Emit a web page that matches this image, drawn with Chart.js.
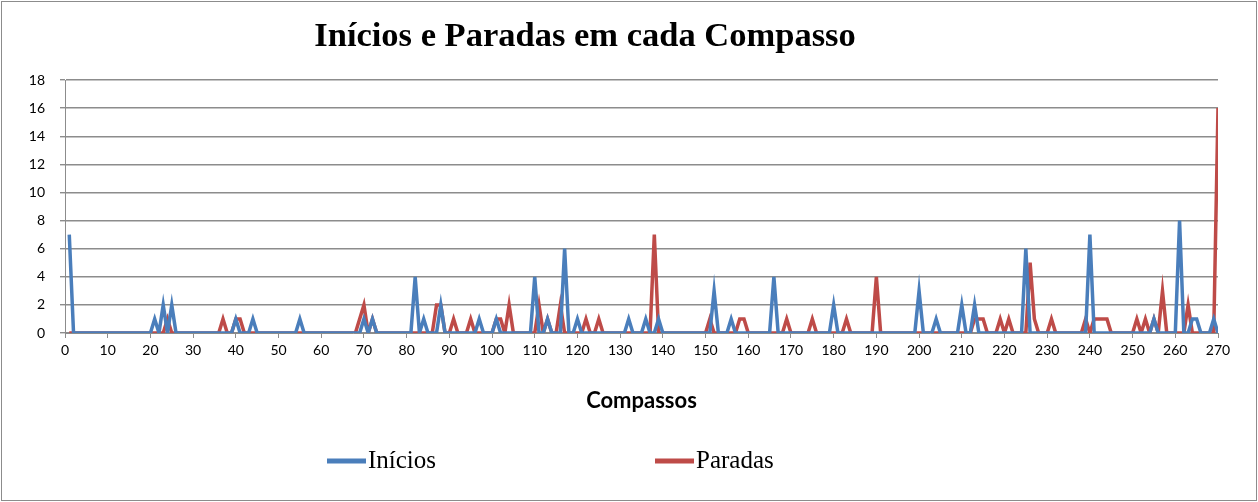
<!DOCTYPE html>
<html>
  <head>
    <title>Inícios e Paradas em cada Compasso</title>
    <script src="https://cdn.jsdelivr.net/npm/chart.js"></script>
    <style>
      body { margin: 0; background: #fff; }
      #wrap { width: 1258px; height: 502px; }
    </style>
  </head>
  <body>
    <div id="wrap"><canvas id="compassoChart"></canvas></div>
    <script>
      // values, one entry per compasso (1..270), rows of 10
      const inicios = [
        7, 0, 0, 0, 0, 0, 0, 0, 0, 0,
        0, 0, 0, 0, 0, 0, 0, 0, 0, 0,
        1, 0, 2, 0, 2, 0, 0, 0, 0, 0,
        0, 0, 0, 0, 0, 0, 0, 0, 0, 1,
        0, 0, 0, 1, 0, 0, 0, 0, 0, 0,
        0, 0, 0, 0, 1, 0, 0, 0, 0, 0,
        0, 0, 0, 0, 0, 0, 0, 0, 0, 1,
        0, 1, 0, 0, 0, 0, 0, 0, 0, 0,
        0, 4, 0, 1, 0, 0, 0, 2, 0, 0,
        0, 0, 0, 0, 0, 0, 1, 0, 0, 0,
        1, 0, 0, 0, 0, 0, 0, 0, 0, 4,
        0, 0, 1, 0, 0, 0, 6, 0, 0, 1,
        0, 0, 0, 0, 0, 0, 0, 0, 0, 0,
        0, 1, 0, 0, 0, 1, 0, 0, 1, 0,
        0, 0, 0, 0, 0, 0, 0, 0, 0, 0,
        0, 3, 0, 0, 0, 1, 0, 0, 0, 0,
        0, 0, 0, 0, 0, 4, 0, 0, 0, 0,
        0, 0, 0, 0, 0, 0, 0, 0, 0, 2,
        0, 0, 0, 0, 0, 0, 0, 0, 0, 0,
        0, 0, 0, 0, 0, 0, 0, 0, 0, 3,
        0, 0, 0, 1, 0, 0, 0, 0, 0, 2,
        0, 0, 2, 0, 0, 0, 0, 0, 0, 0,
        0, 0, 0, 0, 6, 0, 0, 0, 0, 0,
        0, 0, 0, 0, 0, 0, 0, 0, 0, 7,
        0, 0, 0, 0, 0, 0, 0, 0, 0, 0,
        0, 0, 0, 0, 1, 0, 0, 0, 0, 0,
        8, 0, 0, 1, 1, 0, 0, 0, 1, 0,
      ];

      const paradas = [
        0, 0, 0, 0, 0, 0, 0, 0, 0, 0,
        0, 0, 0, 0, 0, 0, 0, 0, 0, 0,
        0, 0, 0, 1, 0, 0, 0, 0, 0, 0,
        0, 0, 0, 0, 0, 0, 1, 0, 0, 1,
        1, 0, 0, 0, 0, 0, 0, 0, 0, 0,
        0, 0, 0, 0, 0, 0, 0, 0, 0, 0,
        0, 0, 0, 0, 0, 0, 0, 0, 1, 2,
        0, 1, 0, 0, 0, 0, 0, 0, 0, 0,
        0, 0, 0, 0, 0, 0, 2, 2, 0, 0,
        1, 0, 0, 0, 1, 0, 0, 0, 0, 0,
        1, 1, 0, 2, 0, 0, 0, 0, 0, 0,
        2, 0, 1, 0, 0, 2, 0, 0, 0, 0,
        0, 1, 0, 0, 1, 0, 0, 0, 0, 0,
        0, 0, 0, 0, 0, 0, 0, 7, 0, 0,
        0, 0, 0, 0, 0, 0, 0, 0, 0, 0,
        1, 0, 0, 0, 0, 0, 0, 1, 1, 0,
        0, 0, 0, 0, 0, 0, 0, 0, 1, 0,
        0, 0, 0, 0, 1, 0, 0, 0, 0, 0,
        0, 0, 1, 0, 0, 0, 0, 0, 0, 4,
        0, 0, 0, 0, 0, 0, 0, 0, 0, 0,
        0, 0, 0, 0, 0, 0, 0, 0, 0, 0,
        0, 0, 1, 1, 1, 0, 0, 0, 1, 0,
        1, 0, 0, 0, 0, 5, 1, 0, 0, 0,
        1, 0, 0, 0, 0, 0, 0, 0, 1, 0,
        1, 1, 1, 1, 0, 0, 0, 0, 0, 0,
        1, 0, 1, 0, 1, 0, 3, 0, 0, 0,
        0, 0, 2, 0, 0, 0, 0, 0, 0, 16,
      ];

      // compasso numbers 1..270 (x positions)
      const compassos = inicios.map((_, i) => i + 1);

      const serieNomes = ["Inícios", "Paradas"];
      const serieCores = ["#4a7ebb", "#be4b48"];
      const tituloTexto = "Inícios e Paradas em cada Compasso";
      const eixoXTitulo = "Compassos";

      const toPoints = (vals) => vals.map((v, i) => ({ x: compassos[i], y: v }));

      // title, legend and frame drawn by hand, like the Excel original
      const decorPlugin = {
        id: "decor",
        beforeDraw(chart) {
          const ctx = chart.ctx;
          ctx.save();
          ctx.fillStyle = "#fff";
          ctx.fillRect(0, 0, chart.width, chart.height);
          ctx.strokeStyle = "#8c8c8c";
          ctx.lineWidth = 1;
          ctx.strokeRect(1.5, 1.5, chart.width - 3, chart.height - 3);
          ctx.restore();
        },
        afterDraw(chart) {
          const ctx = chart.ctx;
          ctx.save();
          ctx.fillStyle = "#000";
          ctx.textAlign = "center";
          ctx.textBaseline = "middle";
          ctx.font = 'bold 34.5px "Liberation Serif", "Times New Roman", serif';
          ctx.fillText(tituloTexto, 585, 37);

          // legend
          const legendX = [327, 655];
          const y = 461;
          ctx.textAlign = "left";
          ctx.font = '25px "Liberation Serif", "Times New Roman", serif';
          chart.data.datasets.forEach((ds, i) => {
            ctx.strokeStyle = ds.borderColor;
            ctx.lineWidth = 5;
            ctx.beginPath();
            ctx.moveTo(legendX[i], y);
            ctx.lineTo(legendX[i] + 39, y);
            ctx.stroke();
            ctx.fillStyle = "#000";
            ctx.fillText(ds.label, legendX[i] + 41, y);
          });
          ctx.restore();
        },
      };

      const ctx = document.getElementById("compassoChart").getContext("2d");
      new Chart(ctx, {
        type: "line",
        data: {
          datasets: [
            {
              label: serieNomes[0],
              data: toPoints(inicios),
              borderColor: serieCores[0],
              borderWidth: 3.5,
              pointRadius: 0,
              fill: false,
              tension: 0,
            },
            {
              label: serieNomes[1],
              data: toPoints(paradas),
              borderColor: serieCores[1],
              borderWidth: 3.5,
              pointRadius: 0,
              fill: false,
              tension: 0,
            },
          ],
        },
        options: {
          responsive: true,
          maintainAspectRatio: false,
          animation: false,
          layout: { padding: { left: 0, right: 40, top: 80, bottom: 69 } },
          plugins: {
            legend: { display: false },
            title: { display: false },
            tooltip: { enabled: false },
          },
          scales: {
            x: {
              type: "linear",
              min: 0,
              max: 270,
              afterFit(scale) {
                scale.height = 100;
              },
              ticks: {
                stepSize: 10,
                color: "#000",
                maxRotation: 0,
                autoSkip: false,
                padding: 4,
                font: { family: "Lato, 'Liberation Sans', sans-serif", size: 14 },
              },
              grid: {
                drawOnChartArea: false,
                drawTicks: true,
                tickLength: 5,
                color: "#8c8c8c",
              },
              border: { color: "#8c8c8c", width: 1 },
              title: {
                display: true,
                text: eixoXTitulo,
                color: "#000",
                padding: { top: 0, bottom: 19 },
                font: { family: "Lato, 'Liberation Sans', sans-serif", size: 22, weight: "bold" },
              },
            },
            y: {
              min: 0,
              max: 18,
              afterFit(scale) {
                scale.width = 65;
              },
              ticks: {
                stepSize: 2,
                color: "#000",
                padding: 15,
                font: { family: "Lato, 'Liberation Sans', sans-serif", size: 14 },
              },
              grid: {
                color: "#8c8c8c",
                lineWidth: 1.4,
                tickLength: 5,
              },
              border: { color: "#8c8c8c", width: 1 },
            },
          },
        },
        plugins: [decorPlugin],
      });
    </script>
  </body>
</html>
